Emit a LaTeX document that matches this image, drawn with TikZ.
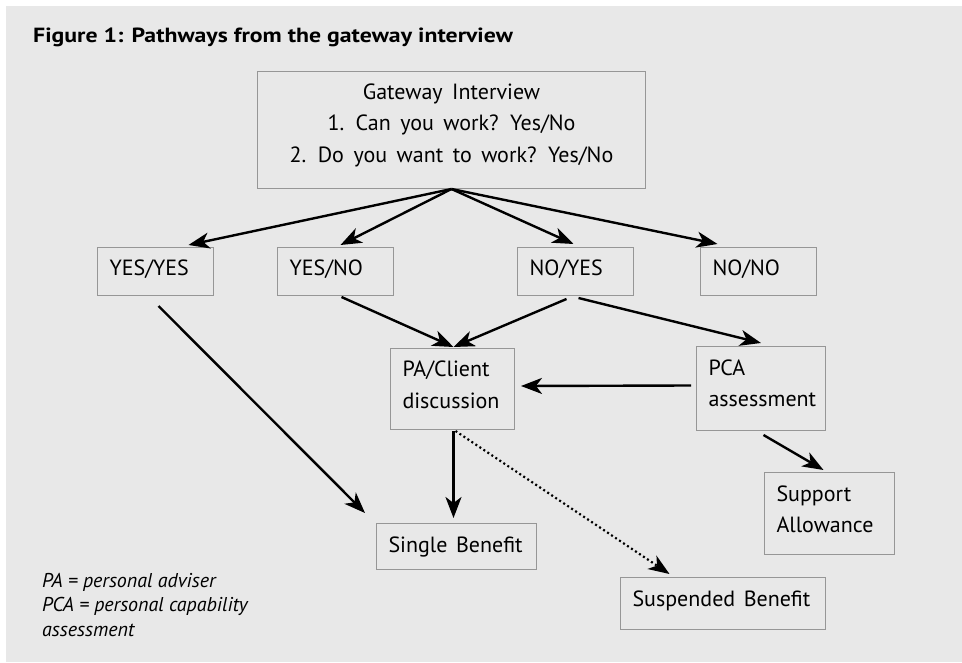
\documentclass[tikz,border=0pt]{standalone}
\usepackage{fontspec}
\setmainfont{PT Sans}
\newfontfamily\titlefont[FakeStretch=1.16]{PT Sans}
\usetikzlibrary{arrows.meta}
\definecolor{bg}{RGB}{232,232,232}
\definecolor{bd}{RGB}{150,150,150}
\newcommand\bx[3]{\parbox[c][#2pt][t]{#1pt}{\raggedright\leftskip=12pt\spaceskip=8.5pt plus 1pt\rule{0pt}{28.5pt}#3}}
\newcommand\cl[1]{\makebox[\linewidth][c]{#1}}
\newcommand\cbx[5]{\parbox[c][#2pt][t]{#1pt}{\raggedright\spaceskip=9.5pt\rule{0pt}{28pt}\cl{#3}\\\cl{#4}\\\cl{#5}}}
\begin{document}
\begin{tikzpicture}[x=1pt,y=-1pt,
  box/.style={draw=bd, line width=1pt, inner sep=0pt, anchor=north west, font=\fontsize{22}{31.5}\selectfont},
  tip/.style={-{Stealth[length=21pt,width=16pt,inset=6pt]}},
  arr/.style={line width=2.4pt, tip},
  dotarr/.style={line width=2.2pt, dash pattern=on 2pt off 2.8pt, tip}]
\useasboundingbox (0,0) rectangle (962,663);
\fill[bg] (6,6) rectangle (962,662);
\node[anchor=base west, inner sep=0pt, font=\titlefont\bfseries\fontsize{20.5}{24}\selectfont] (title) at (33,43) {Figure 1: Pathways from the gateway interview};
\node[box] (gate) at (257,71) {\cbx{388}{117}{Gateway Interview}{1. Can you work? Yes/No}{2. Do you want to work? Yes/No}};
\node[box] (yy) at (97,247) {\bx{116}{48}{YES/YES}};
\node[box] (yn) at (277,247) {\bx{116}{48}{YES/NO}};
\node[box] (ny) at (517,247) {\bx{116}{48}{NO/YES}};
\node[box] (nn) at (700,247) {\bx{116}{48}{NO/NO}};
\node[box] (pa) at (390,348) {\bx{124}{81}{PA/Client\\discussion}};
\node[box] (pca) at (696,346) {\bx{129}{84}{PCA\\assessment}};
\node[box] (sup) at (764,472) {\bx{130}{82}{Support\\Allowance}};
\node[box] (single) at (376,523) {\bx{160}{46}{Single~Benefit}};
\node[box] (susp) at (620,577) {\bx{205}{52}{Suspended~Benefit}};
\node[anchor=base west, inner sep=0pt, font=\itshape\fontsize{20}{24.5}\selectfont] (note) at (42,587) {\parbox[t]{300pt}{\raggedright PA = personal adviser\\PCA = personal capability\\assessment}};
\draw[arr] (gate.south) -- ([xshift=33pt,yshift=2pt]yy.north);
\draw[arr] (gate.south) -- ([xshift=5pt,yshift=2pt]yn.north);
\draw[arr] (gate.south) -- ([xshift=-2pt,yshift=3pt]ny.north);
\draw[arr] (gate.south) -- ([xshift=-41pt,yshift=3pt]nn.north);
\draw[arr] ([xshift=3pt,yshift=-10pt]yy.south) -- ([xshift=-11pt,yshift=10pt]single.north west);
\draw[arr] ([xshift=6pt,yshift=-1pt]yn.south) -- ([xshift=1pt,yshift=1pt]pa.north);
\draw[arr] ([xshift=-9pt,yshift=-3pt]ny.south) -- ([xshift=1pt,yshift=1pt]pa.north);
\draw[arr] ([xshift=3pt,yshift=-2pt]ny.south) -- ([yshift=3pt]pca.north);
\draw[arr] ([xshift=-5pt,yshift=3pt]pca.west) -- ([xshift=6pt,yshift=3pt]pa.east);
\draw[arr] ([xshift=2.5pt,yshift=-4pt]pca.south) -- ([xshift=-6pt,yshift=2pt]sup.north);
\draw[arr] ([xshift=1pt,yshift=-1pt]pa.south) -- ([xshift=-3pt,yshift=5pt]single.north);
\draw[dotarr] ([xshift=3pt,yshift=-1pt]pa.south) -- ([xshift=-53.5pt,yshift=3pt]susp.north);
\end{tikzpicture}
\end{document}
